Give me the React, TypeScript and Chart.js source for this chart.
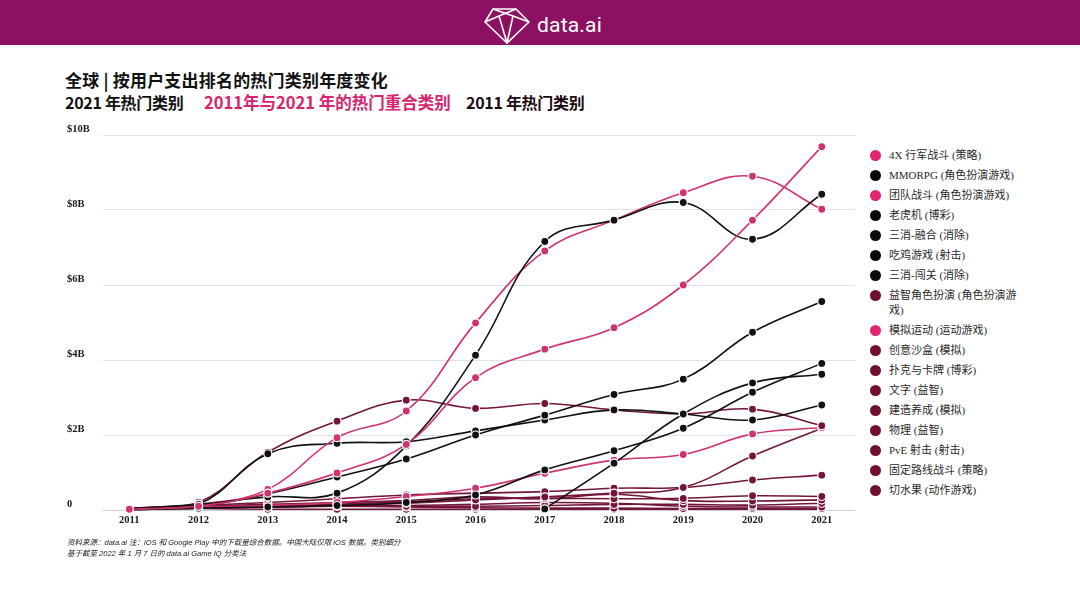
import React, { useEffect, useRef } from "react";
import { Chart, registerables } from "chart.js";

Chart.register(...registerables);

// ---------- data ----------
const years = [2011, 2012, 2013, 2014, 2015, 2016, 2017, 2018, 2019, 2020, 2021];
const yTickValues = [0, 2, 4, 6, 8, 10];
const yTickLabels = ["0", "$2B", "$4B", "$6B", "$8B", "$10B"];

const seriesNames = [
  "4X 行军战斗 (策略)",
  "MMORPG (角色扮演游戏)",
  "团队战斗 (角色扮演游戏)",
  "老虎机 (博彩)",
  "三消-融合 (消除)",
  "吃鸡游戏 (射击)",
  "三消-闯关 (消除)",
  "益智角色扮演 (角色扮演游戏)",
  "模拟运动 (运动游戏)",
  "创意沙盒 (模拟)",
  "扑克与卡牌 (博彩)",
  "文字 (益智)",
  "建造养成 (模拟)",
  "物理 (益智)",
  "PvE 射击 (射击)",
  "固定路线战斗 (策略)",
  "切水果 (动作游戏)",
];
// group: 0 = 2011 & 2021 overlap (pink), 1 = 2021 top (black), 2 = 2011 top (maroon)
const seriesGroups = [0, 1, 0, 1, 1, 1, 1, 2, 0, 2, 2, 2, 2, 2, 2, 2, 2];

// values in $B, null = no data
const v4X = [0.02, 0.1, 0.45, 0.99, 1.75, 3.53, 4.29, 4.86, 6.0, 7.73, 9.69];
const vMMORPG = [0.03, 0.15, 0.35, 0.45, 1.71, 4.13, 7.16, 7.73, 8.2, 7.22, 8.42];
const vTeamBattle = [0.02, 0.15, 0.55, 1.93, 2.64, 4.99, 6.91, 7.73, 8.46, 8.9, 8.02];
const vSlots = [0.03, 0.1, 0.43, 0.88, 1.36, 2.0, 2.53, 3.08, 3.49, 4.74, 5.56];
const vMatch3Merge = [0.01, 0.05, 0.08, 0.12, 0.2, 0.4, 1.07, 1.58, 2.18, 3.14, 3.91];
const vBattleRoyale = [null, null, null, null, null, null, 0.03, 1.25, 2.56, 3.39, 3.62];
const vMatch3Level = [0.03, 0.15, 1.5, 1.78, 1.82, 2.11, 2.4, 2.67, 2.56, 2.4, 2.8];
const vPuzzleRPG = [0.03, 0.2, 1.54, 2.37, 2.93, 2.71, 2.84, 2.67, 2.56, 2.69, 2.25];
const vSportsSim = [0.02, 0.08, 0.12, 0.2, 0.36, 0.58, 0.98, 1.33, 1.48, 2.03, 2.2];
const vSandbox = [0.02, 0.05, 0.08, 0.12, 0.18, 0.27, 0.35, 0.45, 0.6, 1.44, 2.18];
const vPokerCards = [0.04, 0.12, 0.2, 0.3, 0.4, 0.45, 0.49, 0.58, 0.6, 0.8, 0.93];
const vText = [0.01, 0.05, 0.1, 0.15, 0.22, 0.3, 0.31, 0.3, 0.31, 0.38, 0.36];
const vBuildNurture = [0.02, 0.1, 0.15, 0.2, 0.25, 0.35, 0.3, 0.42, 0.25, 0.24, 0.27];
const vPhysics = [0.05, 0.12, 0.1, 0.12, 0.1, 0.1, 0.12, 0.15, 0.15, 0.13, 0.18];
const vPvEShooter = [0.01, 0.05, 0.08, 0.1, 0.12, 0.15, 0.2, 0.18, 0.1, 0.08, 0.08];
const vFixedRoute = [0.03, 0.08, 0.1, 0.1, 0.08, 0.06, 0.05, 0.05, 0.04, 0.04, 0.04];
const vFruitSlice = [0.06, 0.04, 0.02, 0.02, 0.02, 0.02, 0.02, 0.02, 0.02, 0.02, 0.02];

const seriesValues = [
  v4X, vMMORPG, vTeamBattle, vSlots, vMatch3Merge, vBattleRoyale, vMatch3Level,
  vPuzzleRPG, vSportsSim, vSandbox, vPokerCards, vText, vBuildNurture, vPhysics,
  vPvEShooter, vFixedRoute, vFruitSlice,
];

// ---------- styles ----------
const LINE_COLORS = ["#D0336F", "#111111", "#73153B"];
const DOT_COLORS = ["#E0266F", "#0A0A0A", "#6E0F33"];
const PURPLE = "#8C1163";
const SERIF = '"Liberation Serif", "Noto Sans CJK SC", serif';
const CJK = '"Noto Sans CJK SC", "Noto Sans", sans-serif';

function ChartCanvas() {
  const ref = useRef<HTMLCanvasElement | null>(null);
  useEffect(() => {
    if (!ref.current) return;
    const datasets = seriesValues.map((vals, i) => {
      const g = seriesGroups[i];
      const pts = vals
        .map((v, k) => (v == null ? null : { x: years[k], y: v }))
        .filter((p) => p !== null);
      return {
        label: seriesNames[i],
        data: pts,
        borderColor: LINE_COLORS[g],
        backgroundColor: LINE_COLORS[g],
        pointBackgroundColor: LINE_COLORS[g],
        pointBorderColor: "#ffffff",
        pointBorderWidth: 1.2,
        pointRadius: 4,
        borderWidth: 1.6,
        tension: 0.4,
        clip: false,
        fill: false,
      };
    });
    const chart = new Chart(ref.current, {
      type: "line",
      data: { datasets: datasets as any },
      options: {
        animation: false,
        responsive: false,
        devicePixelRatio: 1,
        layout: { padding: { left: 67, right: 15, top: 15, bottom: 0 } },
        plugins: { legend: { display: false }, tooltip: { enabled: false } },
        scales: {
          x: {
            type: "linear",
            min: 2010.62,
            max: 2021.48,
            grid: { display: false, drawTicks: false },
            border: { display: false },
            afterBuildTicks: (axis: any) => {
              axis.ticks = years.map((v) => ({ value: v }));
            },
            afterFit: (s: any) => {
              s.height = 30;
            },
            ticks: {
              autoSkip: false,
              maxRotation: 0,
              padding: 4,
              color: "#1a1a1a",
              font: { family: SERIF, size: 10.5, weight: "bold" },
              callback: (v: any) => String(v),
            },
          },
          y: {
            min: 0,
            max: 10,
            grid: {
              drawTicks: false,
              color: (ctx: any) => (ctx.tick && ctx.tick.value === 0 ? "#cfcfcf" : "#e2e2e2"),
              lineWidth: 1,
            },
            border: { display: false },
            afterBuildTicks: (axis: any) => {
              axis.ticks = yTickValues.map((v) => ({ value: v }));
            },
            afterFit: (s: any) => {
              s.width = 36;
            },
            ticks: {
              crossAlign: "far",
              labelOffset: -6,
              padding: 0,
              color: "#1a1a1a",
              font: { family: SERIF, size: 10.5, weight: "bold" },
              callback: (v: any) => {
                const idx = yTickValues.indexOf(Number(v));
                return idx >= 0 ? yTickLabels[idx] : "";
              },
            },
          },
        },
      } as any,
    });
    return () => chart.destroy();
  }, []);
  return (
    <canvas
      ref={ref}
      width={870}
      height={420}
      style={{ position: "absolute", left: 0, top: 120, width: 870, height: 420 }}
    />
  );
}

function Logo() {
  return (
    <div style={{ position: "absolute", left: 0, top: 0, width: 1080, height: 45, background: PURPLE }}>
      <svg width={60} height={45} style={{ position: "absolute", left: 478, top: 0 }} viewBox="0 0 60 45">
        <g fill="none" stroke="#ffffff" strokeWidth={1.6} strokeLinejoin="round">
          <polygon points="15,9 38,9 51,22 29,43 7,22" />
          <polyline points="7,22 21,16 38,9" />
          <polyline points="15,9 35,16 51,22" />
          <polyline points="21,16 29,43 35,16" />
        </g>
      </svg>
      <div
        style={{
          position: "absolute",
          left: 537,
          top: 13,
          color: "#ffffff",
          fontFamily: 'Roboto, "Noto Sans", sans-serif',
          fontSize: 21,
          fontWeight: 400,
          lineHeight: "25px",
          letterSpacing: 0.2,
        }}
      >
        data.ai
      </div>
    </div>
  );
}

function Titles() {
  const base: React.CSSProperties = {
    position: "absolute",
    fontFamily: CJK,
    fontWeight: 700,
    whiteSpace: "nowrap",
    lineHeight: "20px",
  };
  return (
    <>
      <div style={{ ...base, left: 65, top: 70, fontSize: 17, color: "#111", letterSpacing: 0.2 }}>
        全球 | 按用户支出排名的热门类别年度变化
      </div>
      <div style={{ ...base, left: 65, top: 92, fontSize: 16, color: "#111", letterSpacing: -0.3 }}>
        2021 年热门类别
      </div>
      <div style={{ ...base, left: 204, top: 92, fontSize: 16.5, color: "#D6246E", letterSpacing: 0 }}>
        2011年与2021 年的热门重合类别
      </div>
      <div style={{ ...base, left: 466, top: 92, fontSize: 16, color: "#1c0a12", letterSpacing: -0.3 }}>
        2011 年热门类别
      </div>
    </>
  );
}

function Legend() {
  return (
    <div
      style={{
        position: "absolute",
        left: 870,
        top: 148,
        width: 150,
        display: "flex",
        flexDirection: "column",
        gap: 5,
      }}
    >
      {seriesNames.map((name, i) => (
        <div key={name} style={{ display: "flex", alignItems: "flex-start" }}>
          <span
            style={{
              width: 11,
              height: 11,
              borderRadius: "50%",
              background: DOT_COLORS[seriesGroups[i]],
              marginTop: 2,
              flex: "0 0 auto",
            }}
          />
          <span
            style={{
              marginLeft: 8,
              width: 128,
              fontFamily: SERIF,
              fontSize: 11,
              lineHeight: "15px",
              color: "#2a2a2a",
            }}
          >
            {name}
          </span>
        </div>
      ))}
    </div>
  );
}

function Footer() {
  const st: React.CSSProperties = {
    position: "absolute",
    left: 67,
    fontFamily: '"Liberation Sans", "Noto Sans CJK SC", sans-serif',
    fontStyle: "italic",
    fontSize: 7.5,
    lineHeight: "10px",
    color: "#222",
    whiteSpace: "nowrap",
  };
  return (
    <>
      <div style={{ ...st, top: 538 }}>
        资料来源：data.ai 注：iOS 和 Google Play 中的下载量综合数据。中国大陆仅限 iOS 数据。类别细分
      </div>
      <div style={{ ...st, top: 549 }}>基于截至 2022 年 1 月 7 日的 data.ai Game IQ 分类法</div>
    </>
  );
}

export default function App() {
  return (
    <div
      style={{
        position: "fixed",
        left: 0,
        top: 0,
        width: 1080,
        height: 608,
        background: "#ffffff",
        overflow: "hidden",
      }}
    >
      <Logo />
      <Titles />
      <ChartCanvas />
      <Legend />
      <Footer />
    </div>
  );
}
